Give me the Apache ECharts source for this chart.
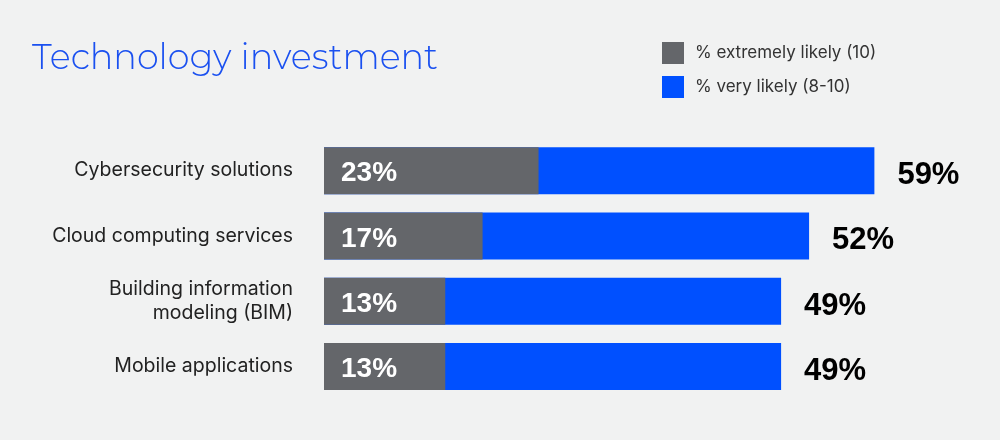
<!DOCTYPE html>
<html lang="en">
<head>
    <meta charset="UTF-8">
    <title>Technology investment</title>
    <script src="https://cdn.jsdelivr.net/npm/echarts@6/dist/echarts.min.js"></script>
    <style>
        html, body { margin: 0; padding: 0; background: #f1f2f2; }
        #main { width: 1000px; height: 440px; }
    </style>
</head>
<body>
<div id="main"></div>
<script>
    // data
    var categories = ['Cybersecurity solutions', 'Cloud computing services', 'Building information\nmodeling (BIM)', 'Mobile applications'];
    var extremelyLikely = [23, 17, 13, 13];
    var veryLikely = [59, 52, 49, 49];
    var seriesNames = ['% extremely likely (10)', '% very likely (8-10)'];

    // bold face for the percentages
    var numFont = '"Liberation Sans", Arial, sans-serif';

    var myChart = echarts.init(document.getElementById('main'));
    var option = {
        backgroundColor: '#f1f2f2',
        title: {
            text: 'Technology investment',
            left: 27,
            top: 36,
            textStyle: {
                color: '#1a50f0',
                fontSize: 35,
                fontWeight: 300,
                fontFamily: 'Montserrat, Inter, Lato, sans-serif'
            }
        },
        legend: {
            data: seriesNames,
            orient: 'vertical',
            left: 662,
            top: 42,
            padding: 0,
            itemWidth: 22,
            itemHeight: 22,
            itemGap: 12,
            icon: 'rect',
            textStyle: {
                color: '#333',
                fontSize: 17,
                fontFamily: 'Inter, "Noto Sans", sans-serif',
                padding: [0, 0, 0, 6]
            }
        },
        grid: {
            left: 324,
            right: 23,
            top: 138,
            bottom: 41
        },
        xAxis: {
            type: 'value',
            min: 0,
            max: 70,
            show: false
        },
        yAxis: {
            type: 'category',
            inverse: true,
            data: categories,
            axisLine: { show: false },
            axisTick: { show: false },
            axisLabel: {
                margin: 31,
                color: '#222',
                fontSize: 19.5,
                lineHeight: 24,
                fontFamily: 'Inter, "Noto Sans", sans-serif',
                align: 'right'
            }
        },
        series: [
            {
                name: seriesNames[1],
                type: 'bar',
                data: veryLikely,
                barWidth: 47,
                barGap: '-100%',
                itemStyle: { color: '#0050ff' },
                label: {
                    show: true,
                    position: 'right',
                    distance: 23,
                    offset: [0, 5],
                    formatter: '{c}%',
                    color: '#000',
                    fontSize: 31,
                    fontWeight: 'bold',
                    fontFamily: numFont
                }
            },
            {
                name: seriesNames[0],
                type: 'bar',
                data: extremelyLikely,
                barWidth: 47,
                z: 3,
                itemStyle: { color: '#64666a' },
                label: {
                    show: true,
                    position: 'insideLeft',
                    distance: 17,
                    offset: [0, 3],
                    formatter: '{c}%',
                    color: '#fff',
                    fontSize: 28,
                    fontWeight: 'bold',
                    fontFamily: numFont
                }
            }
        ]
    };
    myChart.setOption(option);
    window.addEventListener('resize', function () {
        myChart.resize();
    });
</script>
</body>
</html>
